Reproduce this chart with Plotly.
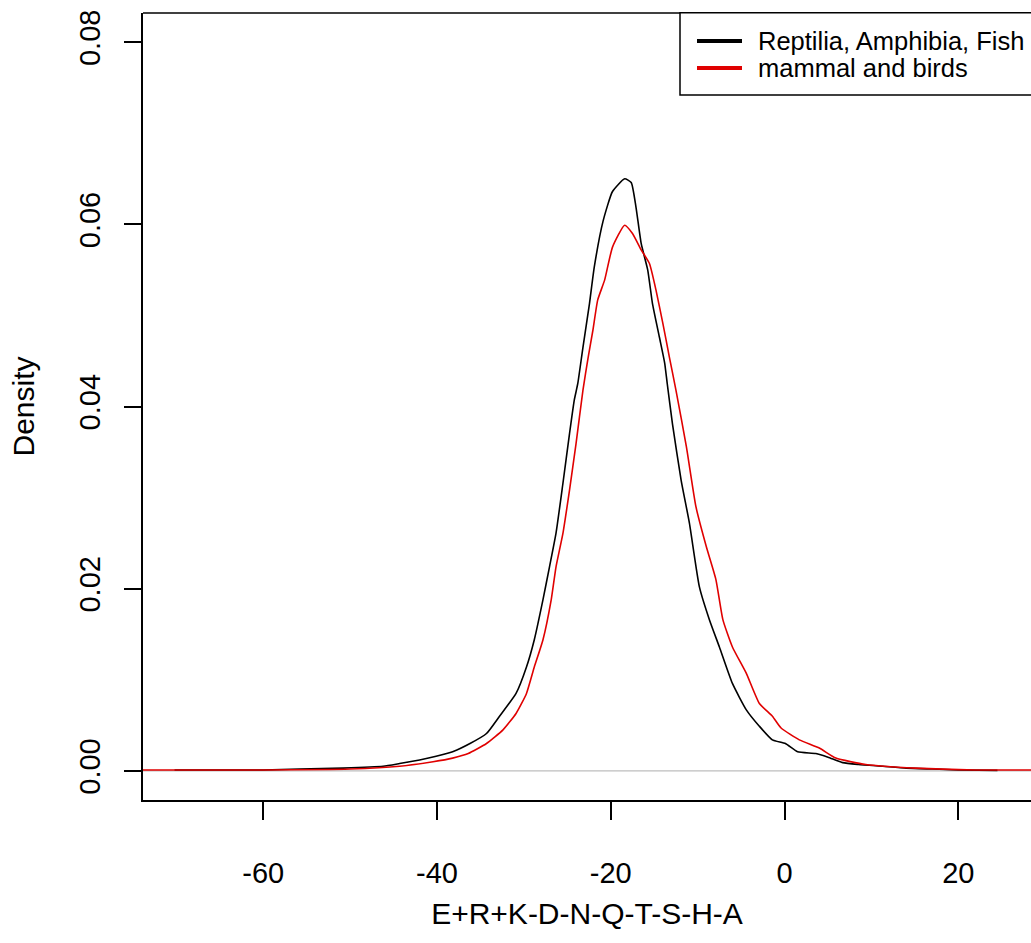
import plotly.graph_objects as go

# Reptilia, Amphibia, Fish (black)
x_rep = [-70.2, -65, -60, -55.8, -50.8, -46.2, -44.3, -42.0, -40.1, -38.2, -36.2, -34.3,
         -32.8, -30.9, -29.7, -28.8, -27.8, -27.05, -26.3, -25.5, -24.75, -24.2, -23.8,
         -23.2, -22.45, -21.9, -20.9, -19.8, -18.4, -17.65, -17.1, -16.5, -15.75, -15.2,
         -14.4, -13.8, -13.5, -12.9, -11.9, -10.95, -9.8, -8.65, -7.5, -6.0, -4.4, -2.9,
         -1.4, 0.1, 1.5, 3.6, 5.0, 6.7, 8.5, 11.3, 14.0, 17.0, 20.0, 24.5]
y_rep = [0.0001, 0.0001, 0.0001, 0.0002, 0.0003, 0.0005, 0.0008, 0.0012, 0.0016, 0.0021,
         0.0030, 0.0041, 0.0060, 0.0085, 0.0114, 0.0144, 0.0188, 0.0224, 0.0261, 0.0316,
         0.0370, 0.0407, 0.0425, 0.0465, 0.0513, 0.0553, 0.0603, 0.0636, 0.0650, 0.0646,
         0.0619, 0.0579, 0.0550, 0.0513, 0.0476, 0.0448, 0.0425, 0.0381, 0.0319, 0.0272,
         0.0202, 0.0166, 0.0136, 0.0096, 0.0067, 0.0049, 0.0034, 0.0030, 0.0021, 0.0019,
         0.0015, 0.0009, 0.0007, 0.0005, 0.0003, 0.0002, 0.0001, 0.00005]

# mammal and birds (red)
x_mam = [-76, -60, -50, -44.3, -40.45, -38.2, -36.4, -34.3, -32.4, -30.9, -29.7, -28.8,
         -27.8, -26.85, -26.3, -25.5, -24.75, -24.0, -23.2, -22.6, -22.05, -21.5, -20.7,
         -19.8, -18.4, -17.5, -16.5, -15.55, -14.8, -14.0, -13.25, -12.5, -11.3, -10.2,
         -9.0, -7.9, -7.1, -6.0, -4.4, -2.9, -1.4, -0.4, 1.7, 4.0, 5.9, 9.35, 15.1, 22.0, 30.0]
y_mam = [0.0001, 0.0001, 0.0002, 0.0005, 0.0010, 0.0014, 0.0019, 0.0030, 0.0045, 0.0063,
         0.0085, 0.0114, 0.0144, 0.0188, 0.0224, 0.0261, 0.0308, 0.0359, 0.0418, 0.0454,
         0.0484, 0.0517, 0.0539, 0.0575, 0.0599, 0.0590, 0.0572, 0.0557, 0.0528, 0.0491,
         0.0454, 0.0418, 0.0356, 0.0290, 0.0246, 0.0210, 0.0166, 0.0136, 0.0107, 0.0074,
         0.0060, 0.0047, 0.0034, 0.0025, 0.0014, 0.0007, 0.0003, 0.0001, 0.0001]

series_names = ["Reptilia, Amphibia, Fish", "mammal and birds"]
series_colors = ["black", "#E00000"]

x_ticks = [-60, -40, -20, 0, 20]
x_tick_text = ["-60", "-40", "-20", "0", "20"]
y_ticks = [0.00, 0.02, 0.04, 0.06, 0.08]
y_tick_text = ["0.00", "0.02", "0.04", "0.06", "0.08"]

FONT = "Liberation Sans, Arial, sans-serif"

W, H = 1031, 943
ML, MR, MT, MB = 143, 0, 13, 143
PW, PH = W - ML - MR, H - MT - MB


def px_x(px):
    return (px - ML) / PW


def px_y(py):
    return (H - MB - py) / PH


fig = go.Figure()
fig.add_trace(go.Scatter(x=x_rep, y=y_rep, mode="lines", name=series_names[0],
                         showlegend=False,
                         line=dict(color=series_colors[0], width=1.6,
                                   shape="spline", smoothing=0.5)))
fig.add_trace(go.Scatter(x=x_mam, y=y_mam, mode="lines", name=series_names[1],
                         showlegend=False,
                         line=dict(color=series_colors[1], width=1.6,
                                   shape="spline", smoothing=0.5)))

# legend box (R-style, drawn as shapes + text)
shapes = [
    dict(type="line", xref="paper", yref="y", x0=0, x1=1, y0=0, y1=0,
         line=dict(color="#BEBEBE", width=1.2), layer="below"),
    dict(type="line", xref="paper", yref="paper", x0=0, x1=1, y0=1, y1=1,
         line=dict(color="black", width=1.5)),
    dict(type="rect", xref="paper", yref="paper", x0=px_x(680), x1=px_x(1045),
         y0=px_y(95), y1=px_y(12.7), line=dict(color="black", width=1.5),
         fillcolor="white"),
]
annotations = []
row_y = [41, 68]
for name, col, ry in zip(series_names, series_colors, row_y):
    shapes.append(dict(type="line", xref="paper", yref="paper",
                       x0=px_x(697), x1=px_x(742), y0=px_y(ry), y1=px_y(ry),
                       line=dict(color=col, width=4)))
    annotations.append(dict(text=name, xref="paper", yref="paper",
                            x=px_x(756), y=px_y(ry), xanchor="left", yanchor="middle",
                            showarrow=False,
                            font=dict(family=FONT, size=25.5, color="black")))

fig.update_layout(
    width=W, height=H,
    margin=dict(l=ML, r=MR, t=MT, b=MB),
    paper_bgcolor="white", plot_bgcolor="white",
    font=dict(family=FONT, size=29, color="black"),
    showlegend=False,
    xaxis=dict(range=[-73.83, 28.36], tickvals=x_ticks, ticktext=x_tick_text,
               ticks="outside", ticklen=18,
               tickwidth=1.5, tickcolor="black", showline=True, linecolor="black",
               linewidth=1.5, showgrid=False, zeroline=False, ticklabelstandoff=28,
               tickfont=dict(family=FONT, size=29),
               title=dict(text="E+R+K-D-N-Q-T-S-H-A", standoff=15,
                          font=dict(family=FONT, size=30))),
    yaxis=dict(range=[-0.0032, 0.0832], tickvals=y_ticks, ticktext=y_tick_text,
               tickangle=-90, ticks="outside", ticklen=17, tickwidth=1.5,
               tickcolor="black", showline=True, linecolor="black", linewidth=1.5,
               showgrid=False, zeroline=False, ticklabelstandoff=13,
               tickfont=dict(family=FONT, size=29),
               title=dict(text="Density", standoff=30,
                          font=dict(family=FONT, size=30))),
    shapes=shapes,
    annotations=annotations,
)

fig.write_html("out.html", config={"displayModeBar": False},
               post_script="document.body.style.margin='0';document.body.style.padding='0';")
